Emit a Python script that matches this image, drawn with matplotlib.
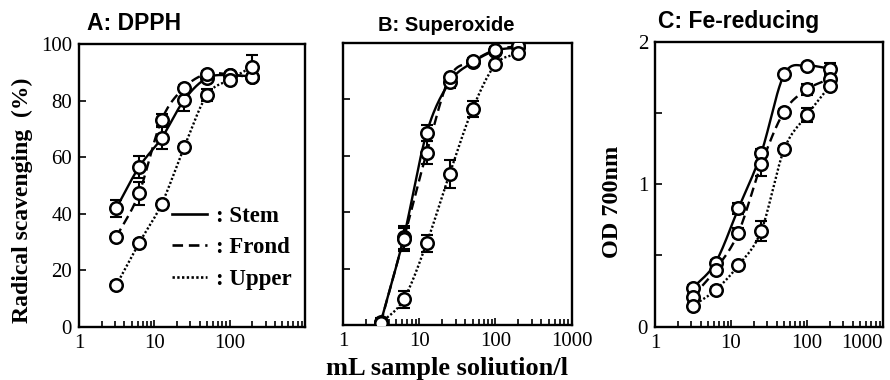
import numpy as np
import matplotlib
matplotlib.use("Agg")
import matplotlib.pyplot as plt
from matplotlib.lines import Line2D
from matplotlib.ticker import FixedLocator, NullFormatter, LogLocator

plt.rcParams['font.family'] = ['Liberation Serif', 'DejaVu Serif']

conc = [3.125, 6.25, 12.5, 25, 50, 100, 200]
series_names = ['Stem', 'Frond', 'Upper']

# A: DPPH radical scavenging (%)
dpph_stem = [42, 56.5, 66.8, 80.3, 88, 89, 88.5]
dpph_frond = [31.8, 47.2, 73.2, 84.6, 89.5, 89.2, 88.2]
dpph_upper = [14.8, 29.6, 43.5, 63.7, 82, 87.4, 92]
dpph_stem_err = [3, 4, 4, 4, 1.5, 1, 1]
dpph_frond_err = [1, 4, 2, 1, 1, 1, 1]
dpph_upper_err = [1, 1, 1, 1, 2, 1, 4]

# B: superoxide scavenging (%)
sox_stem = [1, 31, 68, 86, 93, 97.2, 98.3]
sox_frond = [0.8, 30.3, 61, 87.7, 93.4, 97.5, 98.8]
sox_upper = [0.6, 9.1, 29, 53.5, 76.5, 92.3, 96.3]
sox_stem_err = [1.5, 4, 3, 2, 1, 1, 1]
sox_frond_err = [1.5, 4, 4, 1, 1, 1, 1]
sox_upper_err = [1, 3, 3, 5, 3, 1, 1]

# C: Fe-reducing power (OD 700nm)
fe_stem = [0.27, 0.45, 0.83, 1.22, 1.77, 1.83, 1.81]
fe_frond = [0.21, 0.40, 0.66, 1.14, 1.51, 1.665, 1.74]
fe_upper = [0.145, 0.257, 0.43, 0.674, 1.245, 1.485, 1.69]
fe_stem_err = [0.02, 0.02, 0.04, 0.03, 0.02, 0.01, 0.04]
fe_frond_err = [0.02, 0.02, 0.03, 0.08, 0.02, 0.04, 0.02]
fe_upper_err = [0.02, 0.02, 0.02, 0.07, 0.02, 0.05, 0.02]

styles = ['-', (0, (4, 2.2)), (0, (0.9, 0.9))]


def smooth(x, y, n=24):
    # Catmull-Rom curve in log-x space, like a spreadsheet "smoothed line"
    lx = np.log10(np.asarray(x, float))
    y = np.asarray(y, float)
    p = np.column_stack([lx, y])
    p = np.vstack([2 * p[0] - p[1], p, 2 * p[-1] - p[-2]])
    out = []
    t = np.linspace(0, 1, n)[:, None]
    for i in range(1, len(p) - 2):
        p0, p1, p2, p3 = p[i - 1], p[i], p[i + 1], p[i + 2]
        seg = 0.5 * ((2 * p1) + (-p0 + p2) * t + (2 * p0 - 5 * p1 + 4 * p2 - p3) * t ** 2
                     + (-p0 + 3 * p1 - 3 * p2 + p3) * t ** 3)
        out.append(seg)
    out = np.vstack(out)
    return 10 ** out[:, 0], out[:, 1]


def panel(ax, ys, errs, ylim, yticks, ylabels, xlabels):
    for y, e, ls in zip(ys, errs, styles):
        sx, sy = smooth(conc, y)
        ax.plot(sx, sy, color='black', lw=1.7, ls=ls, zorder=2)
        ax.errorbar(conc, y, yerr=e, fmt='none', ecolor='black', elinewidth=1.5,
                    capsize=4, capthick=1.5, zorder=3)
        ax.plot(conc, y, 'o', ms=9, mfc='white', mec='black', mew=1.8, zorder=4)
    ax.set_xscale('log')
    ax.set_xlim(1, 1000)
    ax.set_ylim(*ylim)
    ax.xaxis.set_major_locator(FixedLocator([1, 10, 100, 1000]))
    ax.xaxis.set_minor_locator(LogLocator(base=10, subs=np.arange(2, 10)))
    ax.xaxis.set_minor_formatter(NullFormatter())
    ax.set_xticks([1, 10, 100, 1000], xlabels)
    ax.set_yticks(yticks, ylabels)
    ax.tick_params(which='both', direction='in', width=1.2, labelsize=15, top=False, right=False)
    ax.tick_params(which='major', length=5, pad=5)
    ax.tick_params(which='minor', length=4)
    for s in ax.spines.values():
        s.set_linewidth(1.7)


fig = plt.figure(figsize=(8.9, 3.8), dpi=100)
axA = fig.add_axes([0.0888, 0.1395, 0.2539, 0.7447])
axB = fig.add_axes([0.3854, 0.1447, 0.2570, 0.7430])
axC = fig.add_axes([0.7360, 0.1403, 0.2562, 0.7500])

panel(axA, [dpph_stem, dpph_frond, dpph_upper], [dpph_stem_err, dpph_frond_err, dpph_upper_err],
      (0, 100), [0, 20, 40, 60, 80, 100], ['0', '20', '40', '60', '80', '100'],
      ['1', '10', '100', ''])
panel(axB, [sox_stem, sox_frond, sox_upper], [sox_stem_err, sox_frond_err, sox_upper_err],
      (0, 100), [0, 20, 40, 60, 80, 100], [''] * 6,
      ['1', '10', '100', '1000'])
panel(axC, [fe_stem, fe_frond, fe_upper], [fe_stem_err, fe_frond_err, fe_upper_err],
      (0, 2), [0, 0.5, 1, 1.5, 2], ['0', '', '1', '', '2'],
      ['1', '10', '100', '1000'])
# the last label of C sits against the right edge of the figure
axC.get_xticklabels()[-1].set_horizontalalignment('right')
axC.get_xticklabels()[-1].set_x(1000)

handles = [Line2D([], [], color='black', lw=1.9, ls=ls) for ls in styles]
axA.legend(handles, [': ' + n for n in series_names], loc='center left',
           bbox_to_anchor=(0.41, 0.28), frameon=False, borderpad=0, borderaxespad=0,
           handlelength=1.55, handletextpad=0.4, labelspacing=0.45,
           prop={'family': 'Liberation Serif', 'weight': 'bold', 'size': 16.5})

W, H = 890, 380
title_font = dict(family='Liberation Sans', weight='bold', va='baseline', ha='left')
fig.text(87 / W, 1 - 30 / H, 'A: DPPH', size=16.5, **title_font)
fig.text(378 / W, 1 - 31 / H, 'B: Superoxide', size=14.5, **title_font)
fig.text(658 / W, 1 - 28 / H, 'C: Fe-reducing', size=16.5, **title_font)

fig.text(22 / W, 1 - 200 / H, 'Radical scavenging  (%)', rotation=90, ha='center', va='center',
         fontsize=17, fontweight='bold')
fig.text(613 / W, 1 - 202 / H, 'OD 700nm', rotation=90, ha='center', va='center',
         fontsize=17.5, fontweight='bold')
fig.text(447 / W, 1 - 368 / H, 'mL sample soliution/l', ha='center', va='center',
         fontsize=19, fontweight='bold')

fig.savefig('out.png', dpi=100)
